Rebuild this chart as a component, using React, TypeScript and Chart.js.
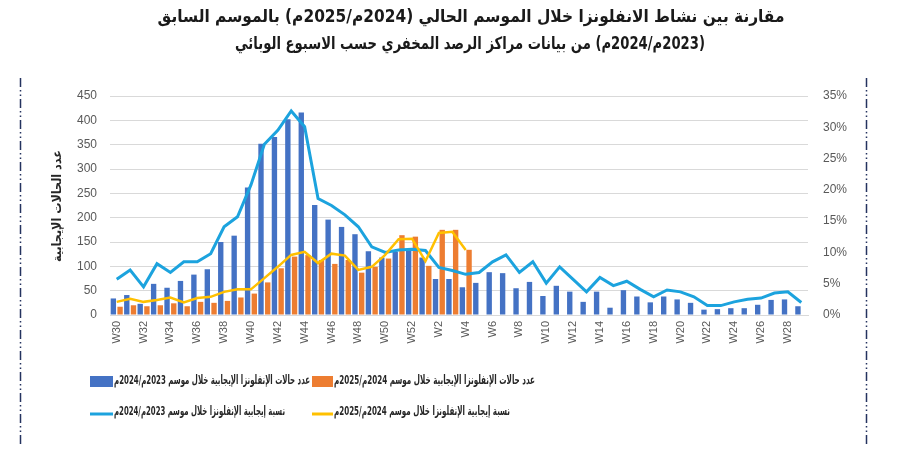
import React, { useEffect, useRef } from "react";
import { Chart, registerables } from "chart.js";

Chart.register(...registerables);

// ---------- data ----------
const weeks = [
  "W30", "W31", "W32", "W33", "W34", "W35", "W36", "W37", "W38", "W39", "W40",
  "W41", "W42", "W43", "W44", "W45", "W46", "W47", "W48", "W49", "W50", "W51", "W52",
  "W1", "W2", "W3", "W4", "W5", "W6", "W7", "W8", "W9", "W10", "W11", "W12", "W13",
  "W14", "W15", "W16", "W17", "W18", "W19", "W20", "W21", "W22", "W23", "W24", "W25",
  "W26", "W27", "W28", "W29",
];

// positive cases, season 2023/2024 (blue bars)
const cases2324 = [
  34, 41, 23, 64, 56, 70, 83, 94, 150, 163, 262,
  352, 366, 402, 416, 226, 196, 181, 166, 131, 118, 130, 134,
  118, 74, 74, 57, 66, 88, 86, 55, 68, 39, 60, 48, 27,
  48, 15, 51, 38, 26, 38, 32, 25, 11, 12, 14, 14,
  21, 31, 32, 18,
];

// positive cases, season 2024/2025 (orange bars)
const cases2425 = [
  17, 20, 18, 20, 24, 18, 27, 25, 29, 36, 44,
  67, 96, 120, 123, 113, 105, 113, 87, 99, 116, 164, 161,
  101, 175, 175, 134,
];

// positivity %, season 2023/2024 (blue line)
const pos2324 = [
  5.7, 7.2, 4.5, 8.2, 6.8, 8.5, 8.5, 9.8, 14.1, 15.7, 20.8,
  27.3, 29.5, 32.6, 30.1, 18.6, 17.5, 16.0, 14.1, 10.9, 10.0, 10.4, 10.5,
  10.3, 7.6, 7.1, 6.5, 6.8, 8.5, 9.6, 6.8, 8.5, 5.1, 7.7, 5.7, 3.7,
  6.0, 4.7, 5.4, 4.1, 2.9, 4.0, 3.7, 2.9, 1.5, 1.5, 2.1, 2.5,
  2.7, 3.5, 3.7, 2.0,
];

// positivity %, season 2024/2025 (yellow line)
const pos2425 = [
  2.1, 2.6, 2.1, 2.4, 2.8, 2.0, 2.7, 2.9, 3.7, 4.1, 4.1,
  5.9, 7.7, 9.6, 10.1, 8.3, 9.8, 9.5, 7.2, 7.7, 9.6, 12.1, 12.2,
  8.6, 13.1, 13.3, 10.4,
];

const titleLines = [
  "مقارنة بين نشاط الانفلونزا خلال الموسم الحالي (2024م/2025م) بالموسم السابق",
  "(2023م/2024م) من بيانات مراكز الرصد المخفري حسب الاسبوع الوبائي",
];
const yTitle = "عدد الحالات الإيجابية";
const legendCases2324 = "عدد حالات الإنفلونزا الإيجابية خلال موسم 2023م/2024م";
const legendCases2425 = "عدد حالات الإنفلونزا الإيجابية خلال موسم 2024م/2025م";
const legendPos2324 = "نسبة إيجابية الإنفلونزا خلال موسم 2023م/2024م";
const legendPos2425 = "نسبة إيجابية الإنفلونزا خلال موسم 2024م/2025م";

const BLUE = "#4472C4";
const ORANGE = "#ED7D31";
const LIGHTBLUE = "#1CA3DE";
const YELLOW = "#FFC000";
const ARABIC = "'DejaVu Sans', sans-serif";
const LATIN = "'Liberation Sans', Arial, sans-serif";

// draw RTL text horizontally scaled to a target width
function drawFitted(
  ctx: CanvasRenderingContext2D,
  text: string,
  x: number,
  y: number,
  width: number,
  size: number,
  weight: string,
  align: "left" | "center"
) {
  ctx.save();
  ctx.direction = "rtl";
  ctx.font = `${weight} ${size}px ${ARABIC}`;
  ctx.textBaseline = "middle";
  ctx.textAlign = align;
  const w = ctx.measureText(text).width;
  const sx = Math.max(0.55, Math.min(1.4, width / w));
  ctx.translate(x, y);
  ctx.scale(sx, 1);
  ctx.fillText(text, 0, 0);
  ctx.restore();
}

const decorPlugin = {
  id: "decor",
  afterDraw(chart: any) {
    const ctx: CanvasRenderingContext2D = chart.ctx;
    // dash-dot frame lines
    ctx.save();
    ctx.strokeStyle = "#24335F";
    ctx.lineWidth = 1.5;
    ctx.setLineDash([9, 3, 1.5, 3, 1.5, 3]);
    [20.5, 866.5].forEach((x) => {
      ctx.beginPath();
      ctx.moveTo(x, 78);
      ctx.lineTo(x, 446);
      ctx.stroke();
    });
    ctx.restore();

    // title
    ctx.fillStyle = "#1A1A1A";
    drawFitted(ctx, titleLines[0], 471, 18, 627, 17, "bold", "center");
    drawFitted(ctx, titleLines[1], 470, 45, 470, 17, "bold", "center");

    // y axis title
    ctx.save();
    ctx.translate(58, 206);
    ctx.rotate(-Math.PI / 2);
    ctx.fillStyle = "#262626";
    drawFitted(ctx, yTitle, 0, 0, 112, 12.5, "bold", "center");
    ctx.restore();

    // legend
    ctx.fillStyle = BLUE;
    ctx.fillRect(90, 376, 23, 11);
    ctx.fillStyle = ORANGE;
    ctx.fillRect(312, 376, 21, 11);
    ctx.save();
    ctx.lineWidth = 3;
    ctx.strokeStyle = LIGHTBLUE;
    ctx.beginPath();
    ctx.moveTo(90, 414);
    ctx.lineTo(113, 414);
    ctx.stroke();
    ctx.strokeStyle = YELLOW;
    ctx.beginPath();
    ctx.moveTo(312, 414);
    ctx.lineTo(333, 414);
    ctx.stroke();
    ctx.restore();
    ctx.fillStyle = "#262626";
    drawFitted(ctx, legendCases2324, 114, 381, 196, 12.5, "bold", "left");
    drawFitted(ctx, legendCases2425, 334, 381, 201, 12.5, "bold", "left");
    drawFitted(ctx, legendPos2324, 114, 412, 171, 12.5, "bold", "left");
    drawFitted(ctx, legendPos2425, 334, 412, 176, 12.5, "bold", "left");
  },
};

export default function App() {
  const ref = useRef<HTMLCanvasElement | null>(null);

  useEffect(() => {
    if (!ref.current) return;
    const tickFont = { family: LATIN, size: 12 };
    const chart = new Chart(ref.current, {
      type: "bar",
      data: {
        labels: weeks,
        datasets: [
          {
            type: "line",
            label: legendPos2425,
            data: pos2425,
            yAxisID: "y1",
            borderColor: YELLOW,
            backgroundColor: YELLOW,
            borderWidth: 2.5,
            pointRadius: 0,
            tension: 0,
            order: 0,
          } as any,
          {
            type: "line",
            label: legendPos2324,
            data: pos2324,
            yAxisID: "y1",
            borderColor: LIGHTBLUE,
            backgroundColor: LIGHTBLUE,
            borderWidth: 3,
            pointRadius: 0,
            tension: 0,
            order: 1,
          } as any,
          {
            type: "bar",
            label: legendCases2324,
            data: cases2324,
            yAxisID: "y",
            backgroundColor: BLUE,
            categoryPercentage: 1,
            barPercentage: 0.8,
            order: 2,
          } as any,
          {
            type: "bar",
            label: legendCases2425,
            data: cases2425,
            yAxisID: "y",
            backgroundColor: ORANGE,
            categoryPercentage: 1,
            barPercentage: 0.8,
            order: 2,
          } as any,
        ],
      },
      options: {
        animation: false,
        responsive: false,
        maintainAspectRatio: false,
        layout: { padding: { top: 96, left: 0, right: 0, bottom: 0 } },
        plugins: {
          legend: { display: false },
          title: { display: false },
          tooltip: { enabled: false },
        },
        scales: {
          x: {
            grid: { display: false, drawTicks: false },
            border: { display: true, color: "#D9D9D9" },
            ticks: {
              autoSkip: false,
              maxRotation: 90,
              minRotation: 90,
              padding: 6,
              color: "#595959",
              font: { family: LATIN, size: 11 },
              callback: (_v: any, i: number) => (i % 2 === 0 ? weeks[i] : ""),
            },
            afterFit: (s: any) => {
              s.height = 135;
            },
          },
          y: {
            position: "left",
            min: 0,
            max: 450,
            ticks: { stepSize: 50, padding: 13, color: "#595959", font: tickFont },
            grid: { color: "#D9D9D9", drawTicks: false },
            border: { display: false },
            afterFit: (s: any) => {
              s.width = 110;
            },
          },
          y1: {
            position: "right",
            min: 0,
            max: 35,
            ticks: {
              stepSize: 5,
              padding: 15,
              color: "#595959",
              font: tickFont,
              callback: (v: any) => `${v}%`,
            },
            grid: { drawOnChartArea: false, drawTicks: false },
            border: { display: false },
            afterFit: (s: any) => {
              s.width = 92;
            },
          },
        },
      } as any,
      plugins: [decorPlugin],
    });
    return () => chart.destroy();
  }, []);

  return (
    <div style={{ position: "absolute", left: 0, top: 0, width: 900, height: 450, background: "#fff" }}>
      <canvas ref={ref} width={900} height={450} style={{ width: 900, height: 450, display: "block" }} />
    </div>
  );
}
